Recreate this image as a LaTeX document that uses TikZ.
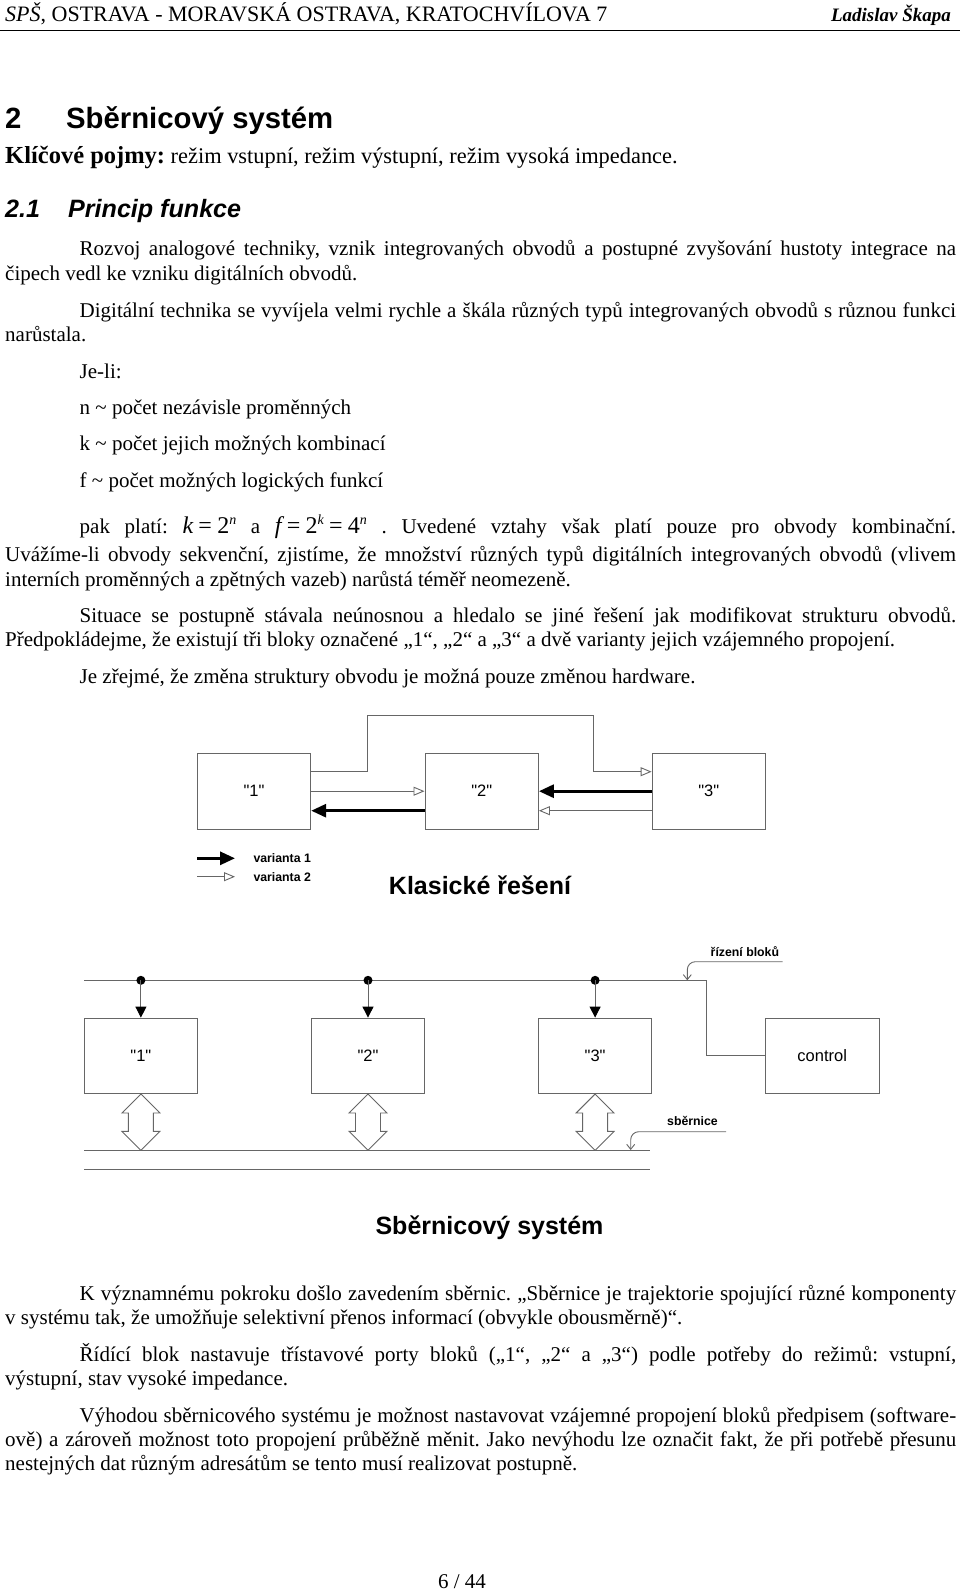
\documentclass[tikz,border=0pt]{standalone}
\usepackage{fontspec}
\setmainfont{Liberation Serif}
\setsansfont{Liberation Sans}
\usetikzlibrary{arrows.meta}
\usetikzlibrary{positioning}
\newcommand{\vel}[1]{\fontsize{#1}{#1}\selectfont}
\newcommand{\jl}[1]{\makebox[876.5pt][s]{#1}}
\newcommand{\jp}[1]{\makebox[951pt][s]{#1}}
\newcommand{\mocnina}[1]{\raisebox{9pt}{\vel{14}\itshape #1}}
\newcommand{\rovno}{\hspace{0.22em}=\hspace{0.22em}}
\newcommand{\uv}[1]{\textquotedbl#1\textquotedbl}

\begin{document}
\frenchspacing
\begin{tikzpicture}[x=1pt,y=-1pt,
        txt/.style={anchor=base west, inner sep=0pt, font=\vel{21}},
        blok/.style={rectangle, draw=black!60, line width=0.9pt, minimum width=113.5pt, minimum height=75.5pt, inner sep=0pt, font=\sffamily\vel{16.5}},
        popis/.style={inner sep=0pt, font=\sffamily\bfseries\vel{12.3}},
        nadpis/.style={inner sep=0pt, anchor=base, font=\sffamily\bfseries\vel{25}},
        vodic/.style={draw=black!60, line width=0.9pt},
        var1/.style={draw=black, line width=3pt, -{Triangle[length=15pt,width=13pt]}},
        var2/.style={vodic, -{Triangle[open,length=11pt,width=9pt,fill=white]}},
        ridici/.style={vodic, -{Triangle[length=11pt,width=11pt,color=black]}},
        odkaz/.style={vodic, rounded corners=8pt, -{Straight Barb[length=5pt,width=8pt]}}
    ]
    \useasboundingbox (0,0) rectangle (960,1594);

    \node[txt, font=\vel{22}] (hlava) at (5,21.4) {\textit{SPŠ}, OSTRAVA - MORAVSKÁ OSTRAVA, KRATOCHVÍLOVA 7};
    \node[txt, anchor=base east, font=\vel{19}\bfseries\itshape] (autor) at (951,21.4) {Ladislav Škapa};
    \draw[line width=1pt] (0,30.5) -- (960,30.5);

    \node[txt, font=\sffamily\bfseries\vel{29.3}] (kap) at (5,129) {2};
    \node[txt, font=\sffamily\bfseries\vel{29.3}] (kapn) at (66,129) {Sběrnicový systém};
    \node[txt, font=\vel{22.4}] (pojmy) at (5,163.7) {{\bfseries\vel{24.5}Klíčové pojmy:} režim vstupní, režim výstupní, režim vysoká impedance.};
    \node[txt, font=\sffamily\bfseries\itshape\vel{25.1}] (pod) at (5,217.6) {2.1};
    \node[txt, font=\sffamily\bfseries\itshape\vel{25.1}] (podn) at (68,217.6) {Princip funkce};

    \node[txt] (t1) at (79.5,256) {\jl{Rozvoj analogové techniky, vznik integrovaných obvodů a postupné zvyšování hustoty integrace na}};
    \node[txt] (t2) at (5,281) {čipech vedl ke vzniku digitálních obvodů.};
    \node[txt] (t3) at (79.5,317) {\jl{Digitální technika se vyvíjela velmi rychle a škála různých typů integrovaných obvodů s různou funkci}};
    \node[txt] (t4) at (5,341) {narůstala.};
    \node[txt] (t5) at (79.5,378) {Je-li:};
    \node[txt] (t6) at (79.5,414.5) {n \textasciitilde{} počet nezávisle proměnných};
    \node[txt] (t7) at (79.5,450.5) {k \textasciitilde{} počet jejich možných kombinací};
    \node[txt] (t8) at (79.5,487.5) {f \textasciitilde{} počet možných logických funkcí};
    \node[txt] (t9) at (79.5,533.5) {\jl{pak platí: \mbox{\rmfamily\vel{24}\itshape k\upshape\rovno 2\mocnina{n}} a \mbox{\rmfamily\vel{24}\itshape f\upshape\rovno 2\mocnina{k}\rovno 4\mocnina{n}} . Uvedené vztahy však platí pouze pro obvody kombinační.}};
    \node[txt] (t10) at (5,561.5) {\jp{Uvážíme-li obvody sekvenční, zjistíme, že množství různých typů digitálních integrovaných obvodů (vlivem}};
    \node[txt] (t11) at (5,586.5) {interních proměnných a zpětných vazeb) narůstá téměř neomezeně.};
    \node[txt] (t12) at (79.5,622) {\jl{Situace se postupně stávala neúnosnou a hledalo se jiné řešení jak modifikovat strukturu obvodů.}};
    \node[txt] (t13) at (5,646.5) {Předpokládejme, že existují tři bloky označené „1“, „2“ a „3“ a dvě varianty jejich vzájemného propojení.};
    \node[txt] (t14) at (79.5,683) {Je zřejmé, že změna struktury obvodu je možná pouze změnou hardware.};

    \node[blok] (a1) at (254,791.2) {\uv{1}};
    \node[blok, right=113.3pt of a1] (a2) {\uv{2}};
    \node[blok, right=112.7pt of a2] (a3) {\uv{3}};
    \coordinate (h1) at (367.3,715.7);
    \coordinate (h2) at (593.3,715.7);
    \path[var2] ([yshift=19.5pt]a1.east) -| (h1) -- (h2) |- ([yshift=19.5pt]a3.west);
    \path[var2] (a1.east) -- (a2.west);
    \path[var1] ([yshift=-19.5pt]a2.west) -- ([yshift=-19.5pt]a1.east);
    \path[var1] (a3.west) -- (a2.east);
    \path[var2] ([yshift=-19.5pt]a3.west) -- ([yshift=-19.5pt]a2.east);

    \coordinate (v1a) at (197.3,858.3);
    \coordinate (v1b) at (235,858.3);
    \coordinate (v2a) at (197.3,876.7);
    \coordinate (v2b) at (235,876.7);
    \path[var1] (v1a) -- (v1b);
    \path[var2] (v2a) -- (v2b);
    \node[popis, anchor=base west] (var1t) at (253.3,862.5) {varianta 1};
    \node[popis, anchor=base west] (var2t) at (253.3,881) {varianta 2};
    \node[nadpis] (klas) at (480,894) {Klasické řešení};

    \node[blok] (c1) at (140.9,1055.8) {\uv{1}};
    \node[blok, right=112.7pt of c1] (c2) {\uv{2}};
    \node[blok, right=112.7pt of c2] (c3) {\uv{3}};
    \node[blok, right=112.7pt of c3] (ctrl) {control};
    \coordinate (r0) at (84,980.3);
    \coordinate (r1) at (706.7,980.3);
    \path[vodic] (r0) -- (r1) |- (ctrl.west);
    \foreach \b in {c1,c2,c3} {
        \fill[black] (\b.north |- r0) circle (4.5pt);
        \path[ridici] (\b.north |- r0) -- (\b.north);
        \draw[vodic, fill=white] (\b.south) -- ++(19,19) -- ++(-6.5,0) -- ++(0,18.3) -- ++(6.5,0) -- ++(-19,19)
            -- ++(-19,-19) -- ++(6.5,0) -- ++(0,-18.3) -- ++(-6.5,0) -- cycle;
    }
    \coordinate (s0) at (84,1150);
    \coordinate (s1) at (650,1150);
    \coordinate (s2) at (84,1169.3);
    \coordinate (s3) at (650,1169.3);
    \path[vodic] (s0) -- (s1);
    \path[vodic] (s2) -- (s3);

    \node[popis, anchor=base] (rizeni) at (744.9,956) {řízení bloků};
    \coordinate (rz) at (782.7,961.7);
    \coordinate (rt) at (687.3,980.3);
    \path[odkaz] (rz) -| (rt);
    \node[popis, anchor=base] (sbernice) at (692.5,1125.7) {sběrnice};
    \coordinate (sz) at (726,1131.7);
    \coordinate (st) at (630.7,1150);
    \path[odkaz] (sz) -| (st);
    \node[nadpis] (sys) at (489.5,1234.5) {Sběrnicový systém};

    \node[txt] (u1) at (79.5,1300) {\jl{K významnému pokroku došlo zavedením sběrnic. „Sběrnice je trajektorie spojující různé komponenty}};
    \node[txt] (u2) at (5,1324) {v systému tak, že umožňuje selektivní přenos informací (obvykle obousměrně)“.};
    \node[txt] (u3) at (79.5,1361) {\jl{Řídící blok nastavuje třístavové porty bloků („1“, „2“ a „3“) podle potřeby do režimů: vstupní,}};
    \node[txt] (u4) at (5,1385) {výstupní, stav vysoké impedance.};
    \node[txt] (u5) at (79.5,1422) {\jl{Výhodou sběrnicového systému je možnost nastavovat vzájemné propojení bloků předpisem (software-}};
    \node[txt] (u6) at (5,1446) {\jp{ově) a zároveň možnost toto propojení průběžně měnit. Jako nevýhodu lze označit fakt, že při potřebě přesunu}};
    \node[txt] (u7) at (5,1470) {nestejných dat různým adresátům se tento musí realizovat postupně.};
    \node[txt, anchor=base] (strana) at (462,1588) {6 / 44};
\end{tikzpicture}
\end{document}
